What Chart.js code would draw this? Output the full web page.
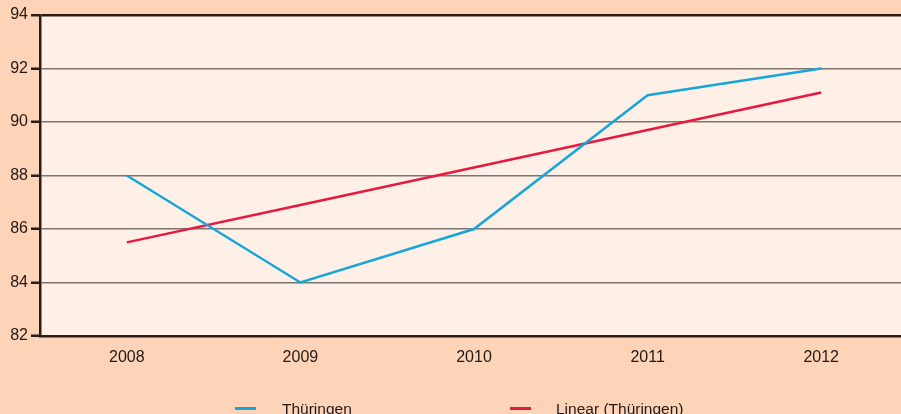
<!DOCTYPE html>
<html>
<head>
<meta charset="utf-8">
<script src="https://cdn.jsdelivr.net/npm/chart.js@4.4.1/dist/chart.umd.min.js"></script>
<style>
  html, body { margin: 0; padding: 0; background: #fed4b9; overflow: hidden; width: 901px; height: 414px; }
  #wrap { position: absolute; left: 0; top: 0; width: 908px; height: 414px; }
  .leg { position: absolute; font-family: "Liberation Sans", Arial, sans-serif; font-size: 15.5px; color: #231815; white-space: nowrap; }
  .sw { position: absolute; height: 3px; width: 21px; }
</style>
</head>
<body>
<div id="wrap"><canvas id="c" width="908" height="414"></canvas></div>
<div class="sw" style="left:235px; top:407px; background:#16a6da;"></div>
<div class="leg" id="l1" style="left:282px; top:400px;"></div>
<div class="sw" style="left:510px; top:407px; background:#e6193f;"></div>
<div class="leg" id="l2" style="left:556px; top:400px;"></div>
<script>
const categories = ["2008", "2009", "2010", "2011", "2012"];
const thueringen = [88, 84, 86, 91, 92];
const linearTrend = [85.5, 86.9, 88.3, 89.7, 91.1];
const seriesNames = ["Thüringen", "Linear (Thüringen)"];
const yTicks = [82, 84, 86, 88, 90, 92, 94];

document.getElementById('l1').textContent = seriesNames[0];
document.getElementById('l2').textContent = seriesNames[1];

const dark = '#2b1d16';
const plotBg = {
  id: 'plotBg',
  beforeDraw(chart) {
    const {ctx, chartArea: a} = chart;
    ctx.save();
    ctx.fillStyle = '#fef0e7';
    ctx.fillRect(a.left, a.top, a.right - a.left, a.bottom - a.top);
    ctx.restore();
  }
};

new Chart(document.getElementById('c'), {
  type: 'line',
  data: {
    labels: categories,
    datasets: [
      { label: seriesNames[0], data: thueringen, borderColor: '#16a6da', borderWidth: 2.5, pointRadius: 0, tension: 0, fill: false },
      { label: seriesNames[1], data: linearTrend, borderColor: '#e6193f', borderWidth: 2.5, pointRadius: 0, tension: 0, fill: false }
    ]
  },
  options: {
    responsive: false,
    animation: false,
    layout: { padding: { top: 15, right: 0, bottom: 0, left: 0 } },
    plugins: { legend: { display: false }, tooltip: { enabled: false } },
    scales: {
      x: {
        offset: true,
        grid: { display: false, drawTicks: false, offset: true },
        border: { display: true, color: dark, width: 2.5 },
        ticks: { color: '#231815', font: { family: '"Liberation Sans", Arial, sans-serif', size: 16 }, padding: 12, maxRotation: 0 },
        afterFit(s) { s.height = 78; }
      },
      y: {
        min: 82, max: 94,
        afterBuildTicks(s) { s.ticks = yTicks.map(v => ({ value: v })); },
        grid: {
          color: ctx => (ctx.tick && ctx.tick.value === 94) ? dark : '#7d7470',
          lineWidth: ctx => (ctx.tick && ctx.tick.value === 94) ? 2.5 : 1.5,
          tickColor: dark, tickLength: 9, tickWidth: 2.5
        },
        border: { display: true, color: dark, width: 2.5 },
        ticks: { color: '#231815', font: { family: '"Liberation Sans", Arial, sans-serif', size: 16 }, padding: 3 },
        afterFit(s) { s.width = 40; }
      }
    }
  },
  plugins: [plotBg]
});
</script>
</body>
</html>
